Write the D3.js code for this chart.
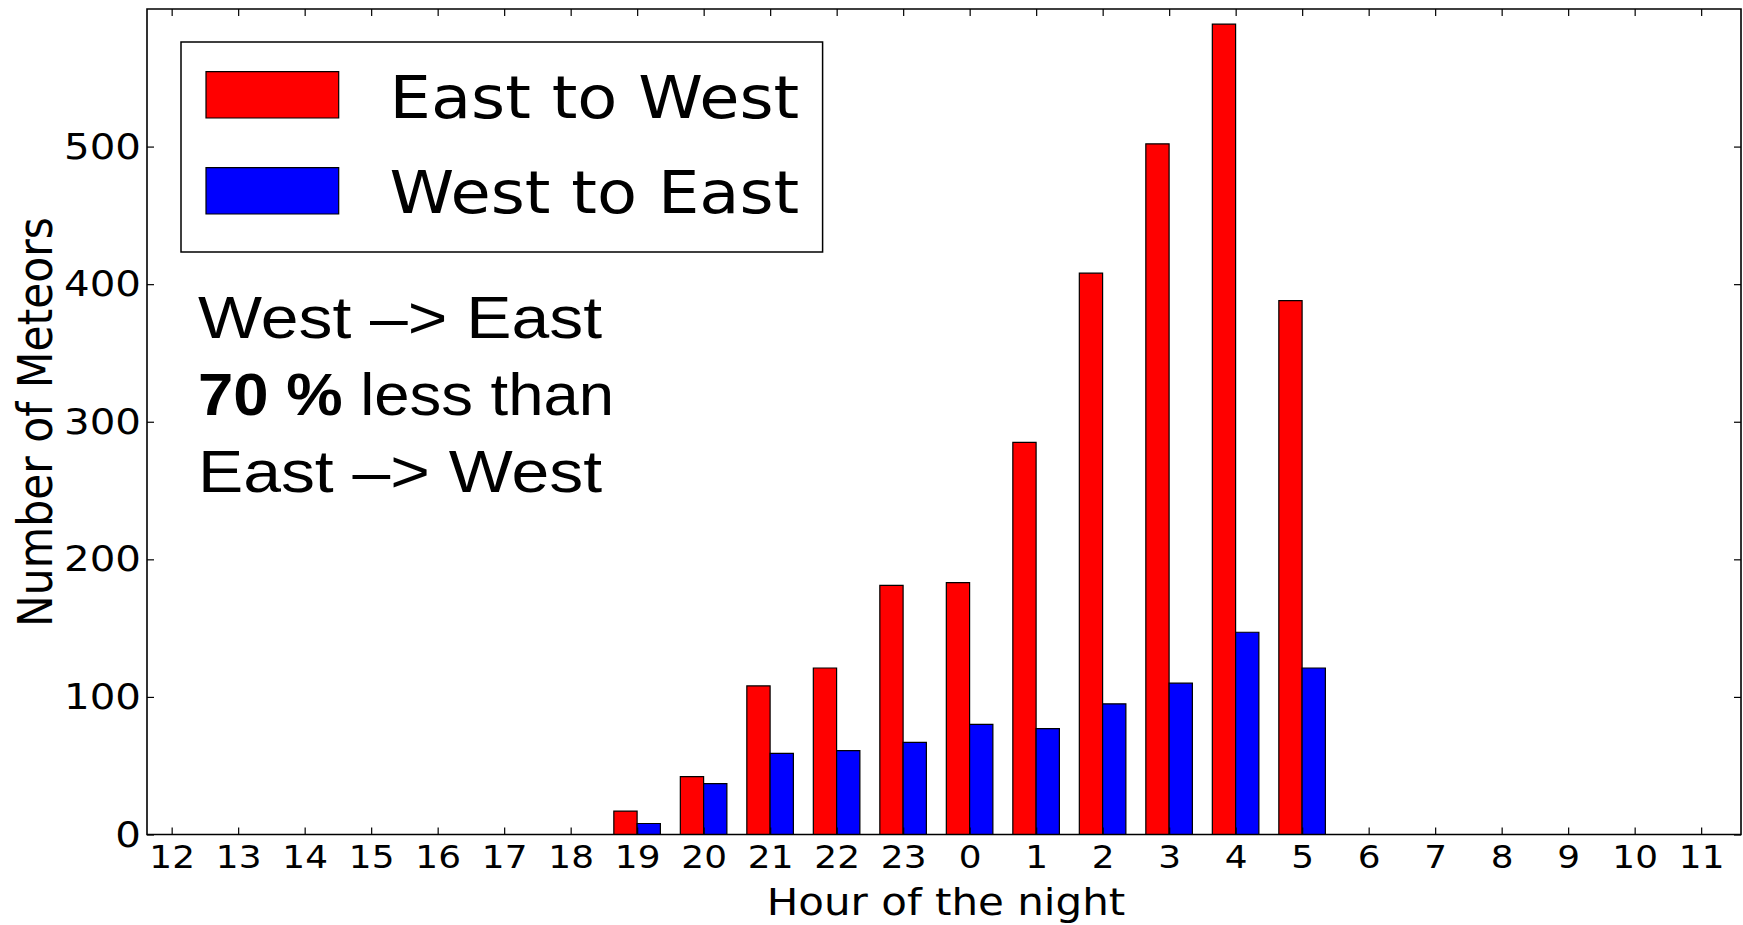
<!DOCTYPE html>
<html><head><meta charset="utf-8">
<script src="https://cdn.jsdelivr.net/npm/d3@7"></script>
<style>body{margin:0;background:#fff;} svg{display:block;}</style>
</head><body>
<svg id="chart" width="1743" height="925"></svg>
<script>
// ---- data ----
const hours = ["12","13","14","15","16","17","18","19","20","21","22","23","0","1","2","3","4","5","6","7","8","9","10","11"];
const eastToWest = [0,0,0,0,0,0,0,17,42,108,121,181,183,285,408,502,589,388,0,0,0,0,0,0];
const westToEast = [0,0,0,0,0,0,0,8,37,59,61,67,80,77,95,110,147,121,0,0,0,0,0,0];
const yTicks = [0,100,200,300,400,500];
const seriesNames = ["East to West","West to East"];
const seriesColors = ["#ff0000","#0000ff"];
const annotationLines = [
  [{t:"West \u2013> East", b:false}],
  [{t:"70 %", b:true},{t:" less than", b:false}],
  [{t:"East \u2013> West", b:false}]
];

(function(){
// ---- layout ----
const SX = 1.12; // horizontal stretch of the original picture
const pLeft = 147/SX, pRight = 1741/SX, pTop = 9, pBottom = 834.5;
const svg = d3.select("#chart");
const g = svg.append("g").attr("transform", `scale(${SX},1)`);

const x = d3.scaleLinear().domain([-0.37, 23.6]).range([pLeft, pRight]);
const y = d3.scaleLinear().domain([0, 600]).range([pBottom, pTop]);
const barW = 0.35;

const series = [eastToWest, westToEast];
series.forEach((vals, s) => {
  g.append("g").selectAll("rect").data(vals).join("rect")
    .attr("x", (d,i) => x(i - barW + s*barW))
    .attr("width", (d,i) => x(i + s*barW) - x(i - barW + s*barW))
    .attr("y", d => y(d))
    .attr("height", d => y(0) - y(d))
    .attr("fill", seriesColors[s])
    .attr("stroke", "#000")
    .attr("stroke-width", 1.2)
    .attr("vector-effect", "non-scaling-stroke");
});

const font = "'DejaVu Sans', sans-serif";

const xAxis = g.append("g").attr("transform", `translate(0,${pBottom})`)
  .call(d3.axisBottom(x).tickValues(d3.range(hours.length)).tickFormat(i => hours[i])
        .tickSizeInner(-7).tickSizeOuter(0).tickPadding(10.8));
xAxis.selectAll("text").attr("font-size", 32).attr("font-family", font).attr("fill", "#000");
const xTop = g.append("g").attr("transform", `translate(0,${pTop})`)
  .call(d3.axisTop(x).tickValues(d3.range(hours.length)).tickFormat("")
        .tickSizeInner(-7).tickSizeOuter(0));
const yAxis = g.append("g").attr("transform", `translate(${pLeft},0)`)
  .call(d3.axisLeft(y).tickValues(yTicks).tickSizeInner(-7/SX).tickSizeOuter(0).tickPadding(6/SX));
yAxis.selectAll("text").attr("font-size", 36).attr("font-family", font).attr("fill", "#000");
const yRight = g.append("g").attr("transform", `translate(${pRight},0)`)
  .call(d3.axisRight(y).tickValues(yTicks).tickFormat("").tickSizeInner(-7/SX).tickSizeOuter(0));
[xAxis, xTop, yAxis, yRight].forEach(a => {
  a.select(".domain").remove();
  a.selectAll("line").attr("stroke", "#000").attr("stroke-width", 1.2).attr("vector-effect", "non-scaling-stroke");
});

g.append("rect").attr("x", pLeft).attr("y", pTop).attr("width", pRight-pLeft).attr("height", pBottom-pTop)
  .attr("fill", "none").attr("stroke", "#000").attr("stroke-width", 1.6).attr("vector-effect", "non-scaling-stroke");

g.append("text").attr("x", 946/SX).attr("y", 915).attr("text-anchor", "middle")
  .attr("font-family", font).attr("font-size", 37.5).text("Hour of the night");
g.append("text").attr("transform", `translate(${51.8/SX},422) rotate(-90)`).attr("text-anchor", "middle")
  .attr("font-family", font).attr("font-size", 42.5).text("Number of Meteors");

const lg = g.append("g");
lg.append("rect").attr("x", 181/SX).attr("y", 42).attr("width", (822.6-181)/SX).attr("height", 210)
  .attr("fill", "#fff").attr("stroke", "#000").attr("stroke-width", 1.5).attr("vector-effect", "non-scaling-stroke");
const swY = [71.7, 167.7], txtY = [118, 213.5];
seriesNames.forEach((n, i) => {
  lg.append("rect").attr("x", 206/SX).attr("y", swY[i]).attr("width", (338.7-206)/SX).attr("height", 46.3)
    .attr("fill", seriesColors[i]).attr("stroke", "#000").attr("stroke-width", 1.2).attr("vector-effect", "non-scaling-stroke");
  lg.append("text").attr("x", 389.5/SX).attr("y", txtY[i]).attr("font-family", font).attr("font-size", 58.5).text(n);
});

const annY = [338.3, 415, 491.7];
const annW = [404, 416, 404];
annotationLines.forEach((parts, i) => {
  const t = g.append("text").attr("x", 198/SX).attr("y", annY[i])
    .attr("font-family", "'Liberation Sans', Arial, sans-serif").attr("font-size", 59)
    .attr("textLength", annW[i]/SX).attr("lengthAdjust", "spacingAndGlyphs");
  parts.forEach(p => t.append("tspan").attr("font-weight", p.b ? "bold" : "normal").text(p.t));
});
})();
</script>
</body></html>
